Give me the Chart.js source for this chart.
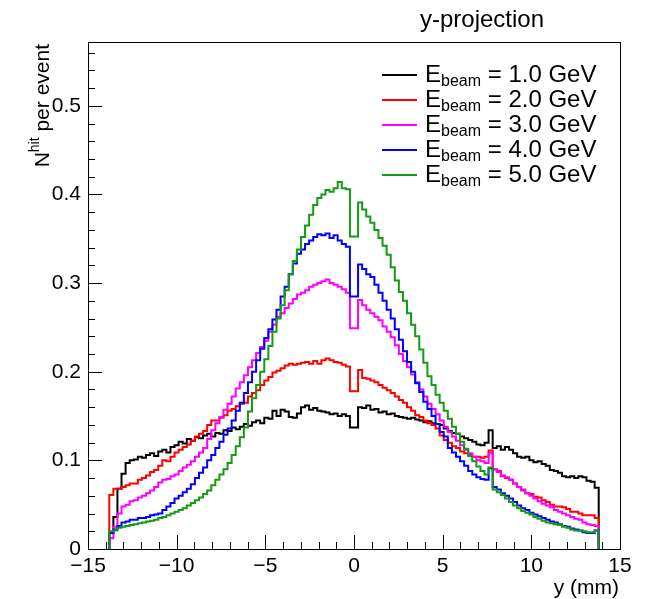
<!DOCTYPE html>
<html><head><meta charset="utf-8">
<script src="https://cdn.jsdelivr.net/npm/chart.js@4/dist/chart.umd.min.js"></script>
<style>html,body{margin:0;padding:0;background:#fff;overflow:hidden}#wrap{width:654px;height:599px;position:relative}</style>
</head><body><div id="wrap"><canvas id="c" width="654" height="599"></canvas></div>
<script>
// ---- data ----
const binLow = -13.8, binWidth = 0.23;
const energies = ['1.0', '2.0', '3.0', '4.0', '5.0'];
const xTickValues = [-15, -10, -5, 0, 5, 10, 15];
const yTickValues = [0, 0.1, 0.2, 0.3, 0.4, 0.5];
const titleText = 'y-projection';
const xTitle = 'y (mm)';

const hist1GeV = [
0.018,0.036,0.068,0.085,0.097,0.100,0.101,0.104,0.103,0.106,
0.108,0.105,0.110,0.112,0.109,0.115,0.117,0.121,0.119,0.124,
0.122,0.126,0.125,0.128,0.130,0.127,0.131,0.130,0.134,0.133,
0.137,0.135,0.138,0.141,0.139,0.143,0.145,0.142,0.148,0.147,
0.156,0.150,0.157,0.155,0.149,0.148,0.153,0.160,0.162,0.157,
0.159,0.156,0.155,0.154,0.152,0.153,0.150,0.152,0.150,0.137,
0.137,0.160,0.159,0.162,0.157,0.158,0.154,0.155,0.152,0.153,
0.150,0.149,0.148,0.147,0.148,0.146,0.145,0.143,0.144,0.142,
0.141,0.140,0.136,0.133,0.131,0.130,0.127,0.125,0.123,0.121,
0.118,0.117,0.120,0.134,0.114,0.116,0.112,0.115,0.112,0.108,
0.104,0.103,0.104,0.100,0.098,0.099,0.096,0.094,0.089,0.088,
0.086,0.082,0.081,0.082,0.080,0.082,0.081,0.077,0.076,0.069];

const hist2GeV = [
0.061,0.068,0.068,0.070,0.072,0.074,0.074,0.078,0.080,0.083,
0.087,0.089,0.094,0.100,0.099,0.104,0.109,0.112,0.115,0.118,
0.122,0.127,0.130,0.133,0.140,0.145,0.145,0.148,0.151,0.156,
0.158,0.161,0.164,0.165,0.172,0.176,0.179,0.185,0.190,0.194,
0.199,0.201,0.204,0.207,0.209,0.208,0.209,0.210,0.211,0.209,
0.212,0.209,0.213,0.215,0.213,0.211,0.210,0.208,0.206,0.178,
0.178,0.202,0.193,0.192,0.190,0.188,0.185,0.182,0.179,0.176,
0.172,0.168,0.165,0.160,0.156,0.151,0.149,0.145,0.142,0.140,
0.136,0.128,0.123,0.120,0.116,0.114,0.110,0.108,0.106,0.104,
0.104,0.103,0.104,0.111,0.090,0.088,0.082,0.080,0.078,0.074,
0.070,0.066,0.063,0.062,0.059,0.058,0.055,0.053,0.050,0.048,
0.048,0.047,0.045,0.042,0.042,0.040,0.038,0.038,0.038,0.035];

const hist3GeV = [
0.012,0.025,0.040,0.048,0.050,0.054,0.055,0.058,0.060,0.063,
0.066,0.070,0.075,0.078,0.079,0.082,0.084,0.088,0.092,0.095,
0.099,0.104,0.109,0.114,0.124,0.134,0.142,0.149,0.157,0.164,
0.172,0.181,0.188,0.196,0.205,0.213,0.221,0.228,0.235,0.245,
0.253,0.262,0.266,0.272,0.277,0.282,0.287,0.289,0.292,0.296,
0.298,0.300,0.302,0.304,0.300,0.298,0.296,0.293,0.289,0.249,
0.249,0.281,0.275,0.270,0.266,0.262,0.258,0.251,0.245,0.239,
0.230,0.220,0.212,0.205,0.197,0.188,0.180,0.172,0.164,0.158,
0.152,0.145,0.138,0.132,0.127,0.122,0.117,0.112,0.108,0.104,
0.100,0.099,0.097,0.108,0.090,0.087,0.083,0.081,0.078,0.074,
0.070,0.067,0.063,0.060,0.057,0.054,0.051,0.049,0.047,0.044,
0.042,0.040,0.038,0.036,0.034,0.033,0.030,0.028,0.027,0.026];

const hist4GeV = [
0.018,0.022,0.026,0.030,0.031,0.033,0.033,0.035,0.035,0.036,
0.038,0.039,0.040,0.044,0.048,0.052,0.057,0.060,0.064,0.068,
0.073,0.080,0.086,0.092,0.100,0.106,0.114,0.121,0.129,0.136,
0.145,0.156,0.165,0.176,0.188,0.200,0.213,0.226,0.238,0.248,
0.259,0.270,0.285,0.296,0.310,0.322,0.333,0.338,0.344,0.348,
0.352,0.355,0.354,0.356,0.351,0.354,0.348,0.344,0.341,0.285,
0.285,0.321,0.316,0.310,0.307,0.298,0.289,0.280,0.270,0.260,
0.248,0.236,0.223,0.211,0.200,0.187,0.177,0.166,0.158,0.150,
0.141,0.132,0.127,0.114,0.109,0.104,0.099,0.094,0.088,0.084,
0.081,0.079,0.078,0.091,0.070,0.067,0.063,0.060,0.057,0.053,
0.049,0.046,0.044,0.041,0.039,0.037,0.035,0.033,0.031,0.030,
0.028,0.026,0.025,0.023,0.022,0.021,0.019,0.018,0.018,0.021];

const hist5GeV = [
0.020,0.021,0.024,0.025,0.026,0.027,0.028,0.029,0.030,0.031,
0.032,0.033,0.035,0.036,0.038,0.040,0.042,0.044,0.046,0.049,
0.052,0.055,0.058,0.062,0.066,0.072,0.078,0.084,0.090,0.097,
0.106,0.116,0.126,0.137,0.155,0.170,0.185,0.200,0.214,0.229,
0.245,0.260,0.275,0.292,0.310,0.325,0.338,0.352,0.365,0.377,
0.388,0.396,0.400,0.405,0.403,0.407,0.414,0.407,0.406,0.3525,
0.3525,0.391,0.383,0.375,0.368,0.360,0.351,0.342,0.332,0.318,
0.303,0.290,0.280,0.266,0.253,0.240,0.225,0.210,0.195,0.185,
0.174,0.165,0.156,0.147,0.138,0.130,0.121,0.113,0.105,0.099,
0.093,0.088,0.084,0.092,0.067,0.064,0.061,0.057,0.053,0.049,
0.046,0.043,0.041,0.039,0.036,0.034,0.032,0.030,0.029,0.028,
0.027,0.025,0.024,0.022,0.021,0.021,0.020,0.019,0.019,0.021];

// ---- styling ----
const FONT = '"Liberation Sans", Arial, Helvetica, sans-serif';
const colors = ['#000000', '#ff0000', '#ff00ff', '#0000ff', '#149a14'];
const allHists = [hist1GeV, hist2GeV, hist3GeV, hist4GeV, hist5GeV];

// outline points: each bin value starts at its low edge; 'before' stepping draws
// the horizontal run at the previous value, then the vertical jump.
function histPoints(vals) {
  const pts = [{x: binLow, y: 0}];
  vals.forEach((v, i) => pts.push({x: binLow + i * binWidth, y: v}));
  pts.push({x: binLow + vals.length * binWidth, y: 0});
  return pts;
}

const datasets = allHists.map((h, i) => ({
  label: 'E_beam = ' + energies[i] + ' GeV',
  energy: energies[i],
  data: histPoints(h),
  borderColor: colors[i],
  backgroundColor: colors[i],
  borderWidth: 2,
  pointRadius: 0,
  stepped: 'before',
  fill: false,
  order: allHists.length - i
}));

const fmt = v => (v < 0 ? '\u2212' + Math.abs(v) : String(v));

const rootPlugin = {
  id: 'rootStyle',
  beforeDraw(chart) {
    const ctx = chart.ctx;
    ctx.save(); ctx.fillStyle = '#fff'; ctx.fillRect(0, 0, chart.width, chart.height); ctx.restore();
  },
  afterDraw(chart) {
    const ctx = chart.ctx, a = chart.chartArea;
    const xs = chart.scales.x, ys = chart.scales.y;
    ctx.save();
    ctx.strokeStyle = '#000'; ctx.lineWidth = 1;
    // frame
    ctx.strokeRect(Math.round(a.left) + 0.5, Math.round(a.top) + 0.5, Math.round(a.right - a.left), Math.round(a.bottom - a.top));
    // x ticks (inside)
    ctx.beginPath();
    for (let v = xs.min; v <= xs.max + 1e-9; v += 1) {
      const px = Math.round(xs.getPixelForValue(v)) + 0.5;
      const major = Math.abs(v % 5) < 1e-9;
      const len = major ? 14 : 7;
      ctx.moveTo(px, a.bottom); ctx.lineTo(px, a.bottom - len);
    }
    // y ticks (inside)
    for (let i = 0; i <= 28; i++) {
      const v = i * 0.02;
      if (v > ys.max) break;
      const py = Math.round(ys.getPixelForValue(v)) + 0.5;
      const major = i % 5 === 0;
      const len = major ? 14 : 7;
      ctx.moveTo(a.left, py); ctx.lineTo(a.left + len, py);
    }
    ctx.stroke();

    ctx.fillStyle = '#000';
    // title
    ctx.font = '24px ' + FONT;
    ctx.textAlign = 'left'; ctx.textBaseline = 'alphabetic';
    ctx.fillText(titleText, 420, 27);

    // x axis title
    ctx.font = '21px ' + FONT;
    ctx.textAlign = 'right';
    ctx.fillText(xTitle, a.right - 1, 594);

    // y axis title with superscript
    ctx.save();
    const big = '21px ' + FONT, small = '14px ' + FONT;
    ctx.font = big; const wN = ctx.measureText('N').width;
    const wRest = ctx.measureText(' per event').width;
    ctx.font = small; const wSup = ctx.measureText('hit').width;
    const total = wN + wSup + wRest;
    ctx.translate(49, a.top + 2 + total);
    ctx.rotate(-Math.PI / 2);
    ctx.textAlign = 'left';
    ctx.font = big; ctx.fillText('N', 0, 0);
    ctx.font = small; ctx.fillText('hit', wN, -10);
    ctx.font = big; ctx.fillText(' per event', wN + wSup, 0);
    ctx.restore();

    // legend
    const lx0 = 382, lx1 = 417, ly0 = 75, dy = 25;
    chart.data.datasets.forEach((ds, i) => {
      const y = ly0 + i * dy;
      ctx.strokeStyle = ds.borderColor; ctx.lineWidth = 2;
      ctx.beginPath(); ctx.moveTo(lx0, y); ctx.lineTo(lx1, y); ctx.stroke();
      ctx.fillStyle = '#000'; ctx.textAlign = 'left';
      let x = 425;
      ctx.font = '24px ' + FONT; ctx.fillText('E', x, y + 7); x += ctx.measureText('E').width;
      ctx.font = '16px ' + FONT; ctx.fillText('beam', x, y + 11); x += ctx.measureText('beam').width;
      ctx.font = '24px ' + FONT; ctx.fillText(' = ' + ds.energy + ' GeV', x, y + 7);
    });
    ctx.restore();
  }
};

new Chart(document.getElementById('c'), {
  type: 'line',
  data: { datasets },
  options: {
    responsive: false,
    animation: false,
    devicePixelRatio: 1,
    layout: { padding: { left: 0, right: 34, top: 42, bottom: 0 } },
    plugins: { legend: { display: false }, title: { display: false }, tooltip: { enabled: false } },
    elements: { line: { tension: 0 } },
    scales: {
      x: {
        type: 'linear', min: -15, max: 15,
        afterBuildTicks: s => { s.ticks = xTickValues.map(v => ({ value: v })); },
        afterFit: s => { s.height = 50; },
        grid: { display: false, drawTicks: false },
        border: { display: false },
        ticks: { color: '#000', font: { family: FONT, size: 21 }, padding: 5, maxRotation: 0, autoSkip: false, callback: v => fmt(v) }
      },
      y: {
        type: 'linear', min: 0, max: 0.572,
        afterBuildTicks: s => { s.ticks = yTickValues.map(v => ({ value: v })); },
        afterFit: s => { s.width = 88; },
        grid: { display: false, drawTicks: false },
        border: { display: false },
        ticks: { color: '#000', font: { family: FONT, size: 21 }, padding: 7, autoSkip: false, callback: v => (v === 0 ? '0' : v.toFixed(1)) }
      }
    }
  },
  plugins: [rootPlugin]
});
</script>
</body></html>
